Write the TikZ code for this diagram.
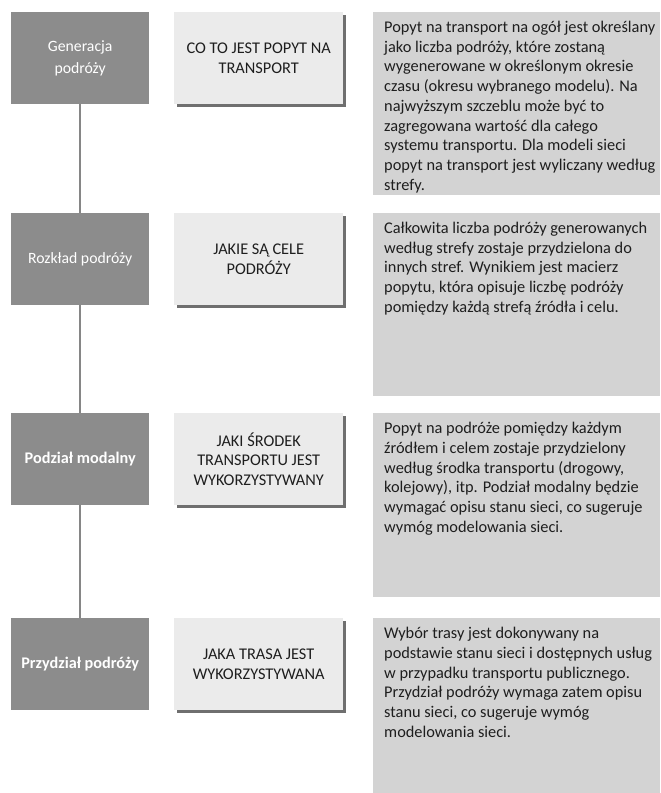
\documentclass[tikz,border=0pt]{standalone}
\usepackage{fontspec}
\setmainfont{Carlito}
\usetikzlibrary{shadows}
\definecolor{darkg}{HTML}{8C8C8C}
\definecolor{lightg}{HTML}{EBEBEB}
\definecolor{boxg}{HTML}{D3D3D3}
\definecolor{lineg}{HTML}{868686}
\definecolor{txt}{HTML}{1E1E1E}
\begin{document}
\begin{tikzpicture}[x=1bp,y=-1bp,
  darkbox/.style={fill=darkg, draw=none, text=white, anchor=north west,
    minimum width=138bp, minimum height=92bp, inner sep=0pt, align=center,
    font=\fontsize{15.8}{21.5}\selectfont},
  qbox/.style={fill=lightg, draw=none, text=txt, anchor=north west,
    minimum width=169bp, minimum height=92bp, inner sep=0pt, align=center,
    font=\fontsize{16.4}{20}\selectfont,
    drop shadow={shadow xshift=3bp, shadow yshift=-3bp, opacity=0.75, fill=black!75}},
  descbox/.style={fill=boxg, draw=none, anchor=north west,
    minimum width=287bp, inner sep=0pt},
  desctext/.style={anchor=north west, inner sep=0pt, align=left, text=txt,
    font=\fontsize{16.4}{19.8}\selectfont},
  conn/.style={draw=lineg, line width=2bp}
]
\useasboundingbox[fill=white] (0,0) rectangle (661,793);

% row 1
\node[darkbox] (d1) at (11,12) {Generacja\\podróży};
\node[qbox] (q1) at (174,12) {CO TO JEST POPYT NA\\TRANSPORT};
\node[descbox, minimum height=183bp] (b1) at (373,12) {};
\node[desctext] (t1) at (384,21) {Popyt na transport na ogół jest określany\\jako liczba podróży, które zostaną\\wygenerowane w określonym okresie\\czasu (okresu wybranego modelu). Na\\najwyższym szczeblu może być to\\zagregowana wartość dla całego\\systemu transportu. Dla modeli sieci\\popyt na transport jest wyliczany według\\strefy.};

% row 2
\node[darkbox] (d2) at (11,213) {Rozkład podróży};
\node[qbox] (q2) at (174,213) {JAKIE SĄ CELE\\PODRÓŻY};
\node[descbox, minimum height=183bp] (b2) at (373,213) {};
\node[desctext] (t2) at (384,222) {Całkowita liczba podróży generowanych\\według strefy zostaje przydzielona do\\innych stref. Wynikiem jest macierz\\popytu, która opisuje liczbę podróży\\pomiędzy każdą strefą źródła i celu.};

% row 3
\node[darkbox, font=\fontsize{16.3}{21}\selectfont\bfseries] (d3) at (11,413) {Podział modalny};
\node[qbox] (q3) at (174,413) {JAKI ŚRODEK\\TRANSPORTU JEST\\WYKORZYSTYWANY};
\node[descbox, minimum height=184bp] (b3) at (373,413) {};
\node[desctext] (t3) at (384,422) {Popyt na podróże pomiędzy każdym\\źródłem i celem zostaje przydzielony\\według środka transportu (drogowy,\\kolejowy), itp. Podział modalny będzie\\wymagać opisu stanu sieci, co sugeruje\\wymóg modelowania sieci.};

% row 4
\node[darkbox, font=\fontsize{16.3}{21}\selectfont\bfseries] (d4) at (11,618) {Przydział podróży};
\node[qbox] (q4) at (174,618) {JAKA TRASA JEST\\WYKORZYSTYWANA};
\node[descbox, minimum height=175bp] (b4) at (373,618) {};
\node[desctext] (t4) at (384,627) {Wybór trasy jest dokonywany na\\podstawie stanu sieci i dostępnych usług\\w przypadku transportu publicznego.\\Przydział podróży wymaga zatem opisu\\stanu sieci, co sugeruje wymóg\\modelowania sieci.};

% connectors
\draw[conn] (d1.south) -- (d2.north);
\draw[conn] (d2.south) -- (d3.north);
\draw[conn] (d3.south) -- (d4.north);
\end{tikzpicture}
\end{document}
